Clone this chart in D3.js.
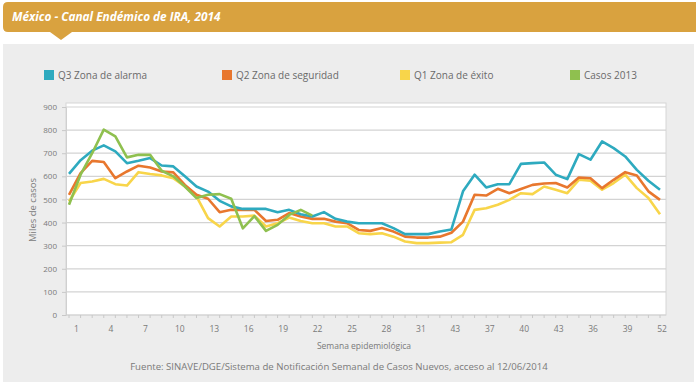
<!DOCTYPE html>
<html>
<head>
<meta charset="utf-8">
<script src="https://cdn.jsdelivr.net/npm/d3@7"></script>
<style>
  body { margin: 0; background: #fff; }
  svg { display: block; font-family: "Open Sans", sans-serif; }
</style>
</head>
<body>
<svg id="chart" width="696" height="384"></svg>
<script>
// weeks 1..52
const weeks = d3.range(1, 53);
const tickWeeks = [1, 4, 7, 10, 13, 16, 19, 22, 25, 28, 31, 34, 37, 40, 43, 46, 49, 52];
// labels as printed in the source (sic)
const tickLabels = ["1", "4", "7", "10", "13", "16", "19", "22", "25", "28", "31", "43", "37", "40", "43", "36", "39", "52"];
const yTicks = [0, 100, 200, 300, 400, 500, 600, 700, 800, 900];

const q3 = [611, 670, 711, 734, 708, 657, 667, 679, 647, 643, 600, 556, 534, 494, 470, 459, 459, 459,
            445, 455, 436, 426, 445, 416, 404, 397, 397, 397, 376, 350, 350, 350, 361, 370, 535, 607,
            552, 566, 566, 654, 657, 660, 607, 588, 696, 672, 751, 722, 686, 628, 581, 542];
const q2 = [520, 614, 667, 662, 592, 621, 646, 638, 621, 617, 563, 520, 503, 445, 455, 455, 455, 407,
            412, 441, 426, 416, 416, 404, 397, 368, 364, 376, 361, 339, 335, 335, 339, 356, 404, 520,
            517, 546, 527, 545, 563, 569, 571, 552, 595, 592, 549, 585, 618, 604, 535, 498];
const q1 = [491, 571, 578, 589, 566, 560, 618, 610, 604, 592, 556, 513, 419, 383, 426, 426, 430, 383,
            397, 422, 407, 397, 397, 383, 383, 354, 350, 354, 339, 318, 311, 311, 313, 315, 347, 455,
            462, 477, 498, 527, 523, 556, 542, 527, 585, 581, 542, 571, 607, 549, 506, 436];
const casos2013 = [477, 607, 700, 802, 773, 682, 693, 693, 624, 600, 556, 506, 520, 523, 503, 375, 428, 364,
            390, 433, 455, 430];

const series = [
  {name: "Q1 Zona de éxito", values: q1, color: "#f8d54a"},
  {name: "Q2 Zona de seguridad", values: q2, color: "#e8772e"},
  {name: "Q3 Zona de alarma", values: q3, color: "#2eaabf"},
  {name: "Casos 2013", values: casos2013, color: "#8fc04f"}
];
const legendOrder = ["Q3 Zona de alarma", "Q2 Zona de seguridad", "Q1 Zona de éxito", "Casos 2013"];

const svg = d3.select("#chart");

// header banner
const gold = "#d9a23f";
svg.append("path")
  .attr("d", "M3,7 Q3,2 8,2 L696,2 L696,32 L72,32 L61,40 L50,32 L8,32 Q3,32 3,27 Z")
  .attr("fill", gold);
svg.append("text").attr("x", 12).attr("y", 21)
  .attr("fill", "#fff").attr("font-size", 11.8).attr("font-weight", "bold").attr("font-style", "italic")
  .text("México - Canal Endémico de IRA, 2014");

// gray panel
svg.append("rect").attr("x", 3).attr("y", 44).attr("width", 691).attr("height", 338)
  .attr("fill", "#ededed");

const x = d3.scaleLinear().domain([1, 52]).range([69, 660]);
const xLab = d3.scaleLinear().domain([1, 52]).range([76.5, 662]);
const y = d3.scaleLinear().domain([0, 900]).range([315, 107]);

// plot box
svg.append("rect").attr("x", 66).attr("y", 103).attr("width", 600).attr("height", 212)
  .attr("fill", "#fff").attr("stroke", "#d6d6d6");

// grid lines
svg.append("g").selectAll("line").data(yTicks).enter().append("line")
  .attr("x1", 66).attr("x2", 666).attr("y1", d => y(d)).attr("y2", d => y(d))
  .attr("stroke", "#d3d3d3").attr("stroke-width", 1.2);

// y axis
const yAxis = svg.append("g").attr("transform", "translate(66,0)")
  .call(d3.axisLeft(y).tickValues(yTicks).tickSize(4).tickPadding(5));
yAxis.select(".domain").attr("stroke", "#d0d0d0");
yAxis.selectAll(".tick line").attr("stroke", "#c8c8c8");
yAxis.selectAll("text").attr("fill", "#7a7a7a").attr("font-size", 8).attr("font-family", "Open Sans");

// x axis: small ticks every week, labels every 3 weeks
svg.append("g").selectAll("line").data(weeks).enter().append("line")
  .attr("x1", d => x(d)).attr("x2", d => x(d)).attr("y1", 315).attr("y2", 318)
  .attr("stroke", "#c8c8c8");
svg.append("g").selectAll("text").data(tickWeeks).enter().append("text")
  .attr("x", d => xLab(d)).attr("y", 332).attr("text-anchor", "middle")
  .attr("fill", "#7a7a7a").attr("font-size", 8.5)
  .text((d, i) => tickLabels[i]);

// lines
const line = d3.line().x((d, i) => x(weeks[i])).y(d => y(d));
svg.append("g").selectAll("path").data(series).enter().append("path")
  .attr("d", s => line(s.values))
  .attr("fill", "none").attr("stroke", s => s.color).attr("stroke-width", 2.6)
  .attr("stroke-linejoin", "round");

// legend
const legX = [44, 222, 400, 570];
const leg = svg.append("g").selectAll("g").data(legendOrder).enter().append("g")
  .attr("transform", (d, i) => `translate(${legX[i]},70)`);
leg.append("rect").attr("width", 10).attr("height", 10)
  .attr("fill", d => series.find(s => s.name === d).color);
leg.append("text").attr("x", 14).attr("y", 9).attr("font-size", 10).attr("fill", "#6a6a6a").text(d => d);

// axis titles and source
svg.append("text").attr("transform", "translate(36,210) rotate(-90)").attr("text-anchor", "middle")
  .attr("font-size", 9.5).attr("fill", "#7a7a7a").text("Miles de casos");
svg.append("text").attr("x", 364).attr("y", 349).attr("text-anchor", "middle")
  .attr("font-size", 8.5).attr("fill", "#7a7a7a").text("Semana epidemiológica");
svg.append("text").attr("x", 339).attr("y", 370).attr("text-anchor", "middle")
  .attr("font-size", 9.6).attr("fill", "#7a7a7a")
  .text("Fuente: SINAVE/DGE/Sistema de Notificación Semanal de Casos Nuevos, acceso al 12/06/2014");
</script>
</body>
</html>
